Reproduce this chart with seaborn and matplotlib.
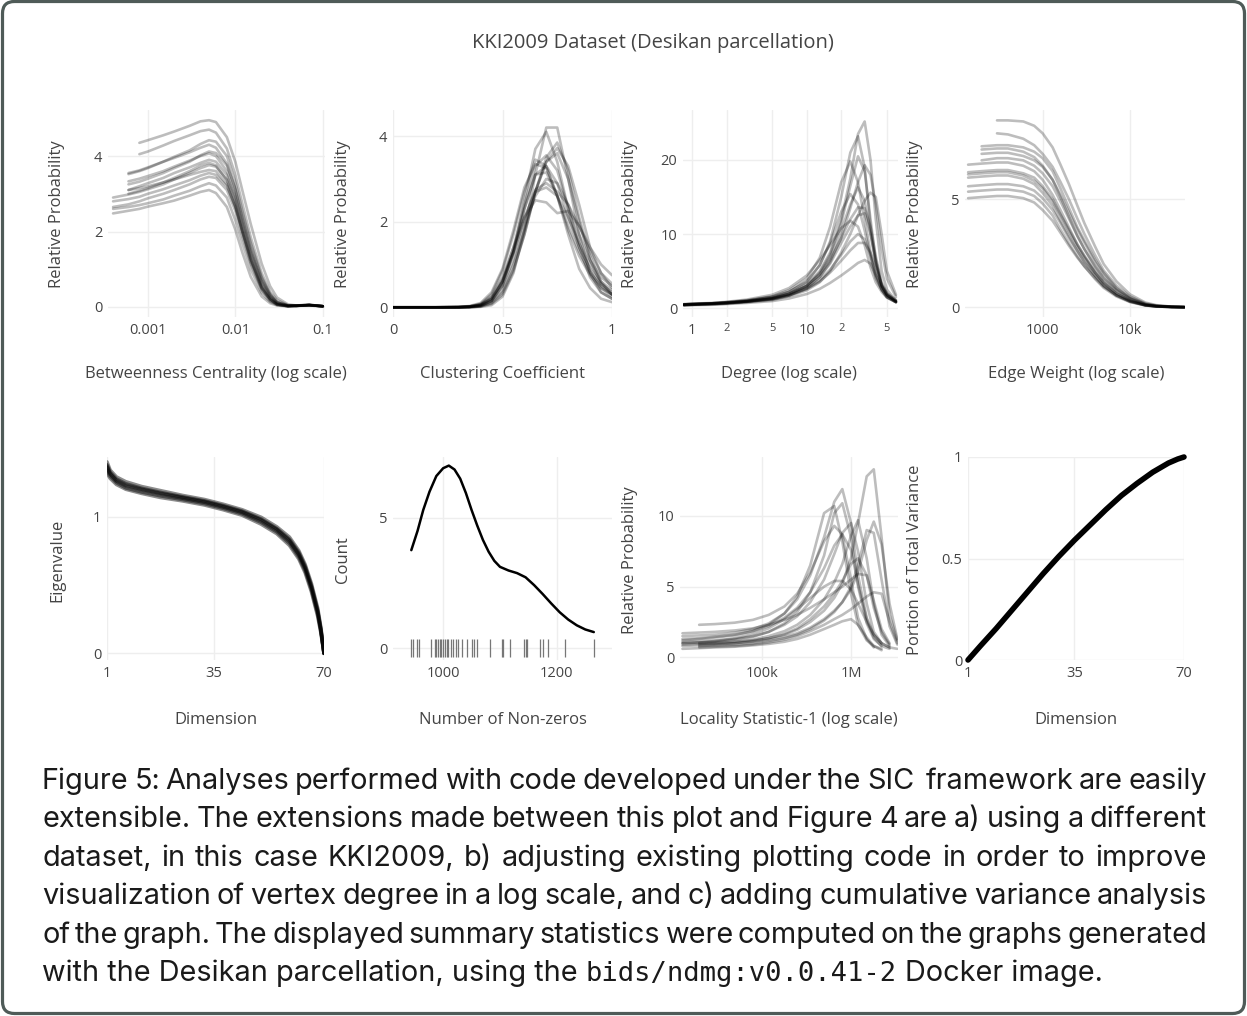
import numpy as np
import pandas as pd
import seaborn as sns
import matplotlib.pyplot as plt
from matplotlib.patches import FancyBboxPatch
from matplotlib.transforms import IdentityTransform
from matplotlib.ticker import NullLocator

N = None

# ---- Betweenness centrality (log x) ----
bc_x = [0.0004, 0.0006, 0.0008, 0.001, 0.0015, 0.002, 0.003, 0.004, 0.005, 0.006, 0.008,
        0.01, 0.012, 0.015, 0.02, 0.025, 0.03, 0.04, 0.05, 0.07, 0.1]
bc_curves = [
    [N, N, 4.35, 4.42, 4.55, 4.65, 4.8, 4.92, 4.95, 4.9, 4.5, 3.85, 3.1, 2.2, 1.15, 0.55, 0.25, 0.07, 0.04, 0.05, 0.02],
    [N, N, 4.05, 4.12, 4.28, 4.4, 4.55, 4.66, 4.7, 4.62, 4.2, 3.5, 2.75, 1.85, 0.9, 0.4, 0.18, 0.05, 0.03, 0.05, 0.02],
    [N, 3.52, 3.6, 3.68, 3.85, 3.98, 4.15, 4.32, 4.42, 4.38, 4.0, 3.3, 2.55, 1.7, 0.8, 0.35, 0.14, 0.04, 0.03, 0.06, 0.02],
    [N, 3.55, 3.62, 3.7, 3.85, 3.95, 4.1, 4.22, 4.3, 4.22, 3.8, 3.1, 2.35, 1.5, 0.7, 0.3, 0.12, 0.04, 0.04, 0.06, 0.02],
    [N, 3.33, 3.4, 3.47, 3.6, 3.72, 3.88, 4.0, 4.07, 4.0, 3.6, 2.95, 2.25, 1.45, 0.65, 0.27, 0.1, 0.03, 0.03, 0.05, 0.02],
    [N, 3.1, 3.2, 3.28, 3.42, 3.55, 3.7, 3.82, 3.9, 3.85, 3.5, 2.9, 2.2, 1.4, 0.6, 0.25, 0.1, 0.03, 0.04, 0.05, 0.02],
    [2.9, 2.98, 3.05, 3.12, 3.25, 3.38, 3.55, 3.68, 3.76, 3.72, 3.38, 2.8, 2.1, 1.3, 0.55, 0.22, 0.08, 0.03, 0.04, 0.05, 0.02],
    [N, 3.1, 3.15, 3.2, 3.3, 3.38, 3.5, 3.58, 3.63, 3.6, 3.25, 2.65, 2.0, 1.25, 0.5, 0.2, 0.07, 0.02, 0.03, 0.05, 0.02],
    [2.65, 2.72, 2.8, 2.88, 3.0, 3.1, 3.25, 3.38, 3.45, 3.42, 3.1, 2.55, 1.9, 1.15, 0.45, 0.17, 0.06, 0.02, 0.03, 0.05, 0.02],
    [2.6, 2.65, 2.7, 2.75, 2.85, 2.95, 3.08, 3.2, 3.28, 3.22, 2.9, 2.3, 1.7, 1.0, 0.38, 0.14, 0.05, 0.02, 0.03, 0.04, 0.02],
    [2.48, 2.55, 2.6, 2.66, 2.75, 2.82, 2.95, 3.05, 3.1, 3.02, 2.65, 2.05, 1.45, 0.8, 0.28, 0.1, 0.04, 0.02, 0.03, 0.04, 0.02],
    [N, 3.25, 3.32, 3.4, 3.55, 3.68, 3.85, 4.02, 4.12, 4.08, 3.75, 3.15, 2.45, 1.6, 0.75, 0.32, 0.12, 0.04, 0.03, 0.05, 0.02],
    [N, 3.0, 3.08, 3.15, 3.3, 3.42, 3.6, 3.75, 3.82, 3.75, 3.35, 2.7, 2.0, 1.2, 0.5, 0.2, 0.07, 0.02, 0.04, 0.06, 0.02],
    [2.8, 2.86, 2.92, 3.0, 3.12, 3.22, 3.36, 3.48, 3.55, 3.5, 3.2, 2.65, 2.0, 1.25, 0.52, 0.2, 0.07, 0.02, 0.03, 0.05, 0.02],
]

# ---- Clustering coefficient ----
cc_x = [0, 0.1, 0.2, 0.3, 0.35, 0.4, 0.45, 0.5, 0.55, 0.6, 0.65, 0.7, 0.75, 0.8, 0.85, 0.9, 0.95, 1.0]
cc_curves = [
    [0, 0, 0, 0, 0, 0.01, 0.05, 0.25, 0.8, 1.8, 3.1, 4.2, 4.2, 3.0, 1.7, 0.8, 0.35, 0.2],
    [0, 0, 0, 0, 0.01, 0.03, 0.15, 0.5, 1.3, 2.5, 3.7, 4.1, 3.4, 2.3, 1.4, 0.7, 0.35, 0.2],
    [0, 0, 0, 0, 0, 0.02, 0.1, 0.35, 0.9, 1.7, 2.7, 3.5, 3.85, 3.2, 2.1, 1.2, 0.6, 0.3],
    [0, 0, 0, 0, 0.01, 0.03, 0.12, 0.4, 1.0, 1.8, 2.7, 3.4, 3.72, 3.3, 2.4, 1.4, 0.8, 0.45],
    [0, 0, 0, 0.01, 0.02, 0.08, 0.3, 0.85, 1.7, 2.7, 3.45, 3.3, 2.6, 1.9, 1.3, 0.8, 0.5, 0.3],
    [0, 0, 0, 0, 0.01, 0.05, 0.2, 0.6, 1.4, 2.4, 3.3, 3.55, 3.2, 2.3, 1.5, 0.85, 0.45, 0.25],
    [0, 0, 0, 0.01, 0.02, 0.07, 0.25, 0.7, 1.4, 2.1, 2.5, 2.45, 2.2, 2.25, 1.9, 1.4, 1.0, 0.75],
    [0, 0, 0, 0, 0.01, 0.05, 0.18, 0.6, 1.3, 2.3, 3.1, 3.3, 2.9, 2.1, 1.4, 0.9, 0.55, 0.35],
    [0, 0, 0, 0, 0.01, 0.04, 0.15, 0.5, 1.1, 1.9, 2.6, 3.0, 2.9, 2.4, 1.7, 1.1, 0.7, 0.5],
    [0, 0, 0, 0.01, 0.03, 0.1, 0.35, 0.9, 1.8, 2.8, 3.35, 3.25, 2.6, 1.8, 1.2, 0.75, 0.45, 0.3],
    [0, 0, 0, 0, 0.02, 0.06, 0.22, 0.65, 1.3, 2.1, 2.7, 2.8, 2.6, 2.1, 1.5, 1.0, 0.6, 0.4],
    [0, 0, 0, 0, 0, 0.02, 0.08, 0.3, 0.85, 1.7, 2.7, 3.4, 3.6, 3.0, 2.0, 1.1, 0.55, 0.3],
    [0, 0, 0, 0, 0.01, 0.04, 0.15, 0.55, 1.3, 2.3, 3.1, 3.15, 2.6, 1.7, 0.9, 0.45, 0.2, 0.12],
    [0, 0, 0, 0.01, 0.02, 0.06, 0.2, 0.6, 1.25, 2.05, 2.75, 2.9, 2.7, 2.4, 1.9, 1.3, 0.8, 0.55],
]

# ---- Degree (log x) ----
deg_x = [0.85, 1, 1.5, 2, 3, 5, 7, 10, 13, 16, 20, 24, 28, 32, 36, 40, 45, 50, 60]
deg_curves = [
    [0.5, 0.55, 0.65, 0.75, 0.95, 1.4, 2.0, 3.2, 5.0, 7.5, 12, 17.5, 23.5, 25.2, 20, 12, 5, 2.5, 1.0],
    [0.5, 0.55, 0.65, 0.75, 1.0, 1.5, 2.2, 3.5, 5.8, 9, 15, 21, 23.2, 19, 11, 6, 3, 1.8, 0.9],
    [0.45, 0.5, 0.6, 0.7, 0.9, 1.3, 1.9, 3.0, 4.8, 7.2, 11.5, 16.5, 20.5, 18.5, 12, 6.5, 3, 1.8, 0.8],
    [0.5, 0.55, 0.65, 0.8, 1.05, 1.6, 2.4, 4.0, 6.8, 11, 17, 19.8, 17, 12, 7.5, 4.5, 2.5, 1.5, 0.8],
    [0.4, 0.45, 0.55, 0.65, 0.85, 1.2, 1.7, 2.7, 4.2, 6.2, 9.5, 13.5, 17, 19.3, 18, 14, 8, 4, 1.5],
    [0.4, 0.45, 0.5, 0.6, 0.8, 1.1, 1.6, 2.4, 3.5, 5.0, 7.5, 10, 12.5, 14.5, 15.6, 15, 10, 5, 1.8],
    [0.45, 0.5, 0.6, 0.7, 0.9, 1.3, 1.9, 3.0, 4.6, 6.8, 10.5, 14, 16.3, 14.5, 10, 6, 3, 1.8, 0.9],
    [0.5, 0.55, 0.65, 0.8, 1.0, 1.5, 2.2, 3.6, 5.8, 8.8, 13, 15.4, 14, 10.5, 7, 4, 2.5, 1.5, 0.8],
    [0.45, 0.5, 0.6, 0.7, 0.9, 1.3, 1.8, 2.8, 4.2, 6.0, 8.8, 11, 12.5, 12.8, 10, 6.5, 3.2, 1.8, 0.9],
    [0.4, 0.45, 0.55, 0.65, 0.85, 1.2, 1.7, 2.6, 3.8, 5.2, 7.2, 9, 10, 9.3, 7, 4.5, 2.5, 1.5, 0.8],
    [0.35, 0.4, 0.45, 0.55, 0.7, 0.95, 1.3, 1.9, 2.6, 3.4, 4.4, 5.3, 6.1, 6.5, 6.0, 4.5, 2.8, 1.7, 0.9],
    [0.55, 0.6, 0.7, 0.85, 1.15, 1.8, 2.7, 4.4, 6.5, 8.5, 10.8, 11.8, 11, 8.5, 5.5, 3.5, 2.2, 1.4, 0.8],
    [0.45, 0.5, 0.6, 0.7, 0.9, 1.35, 1.9, 3.0, 4.5, 6.5, 9.5, 12, 13.6, 13.5, 11, 7, 3.5, 2.0, 1.0],
    [0.5, 0.55, 0.6, 0.7, 0.9, 1.25, 1.7, 2.6, 3.6, 4.8, 6.4, 7.8, 8.8, 8.8, 7.5, 5.5, 3.2, 2.0, 1.1],
]

# ---- Edge weight (log x) ----
ew_x = [140, 200, 300, 400, 600, 800, 1000, 1300, 1600, 2000, 2500, 3000, 4000, 5000, 7000,
        10000, 15000, 20000, 30000, 42000]
ew_curves = [
    [N, N, 8.65, 8.65, 8.6, 8.4, 8.05, 7.4, 6.6, 5.7, 4.7, 3.9, 2.8, 2.0, 1.2, 0.6, 0.22, 0.1, 0.03, 0.01],
    [N, N, 8.05, 8.0, 7.8, 7.5, 7.1, 6.5, 5.8, 5.0, 4.1, 3.4, 2.4, 1.7, 1.0, 0.5, 0.18, 0.08, 0.03, 0.01],
    [N, 7.45, 7.5, 7.5, 7.4, 7.2, 6.9, 6.3, 5.5, 4.6, 3.7, 3.1, 2.2, 1.6, 0.9, 0.45, 0.15, 0.07, 0.02, 0.01],
    [N, 7.1, 7.15, 7.15, 7.0, 6.8, 6.5, 5.9, 5.2, 4.4, 3.6, 3.0, 2.1, 1.5, 0.85, 0.42, 0.14, 0.06, 0.02, 0.01],
    [N, 6.8, 6.9, 6.9, 6.8, 6.55, 6.2, 5.6, 4.9, 4.1, 3.3, 2.7, 1.9, 1.35, 0.8, 0.4, 0.13, 0.06, 0.02, 0.01],
    [6.6, 6.65, 6.7, 6.7, 6.55, 6.3, 5.9, 5.2, 4.5, 3.7, 2.9, 2.4, 1.65, 1.15, 0.65, 0.3, 0.1, 0.05, 0.02, 0.01],
    [6.25, 6.3, 6.35, 6.35, 6.2, 6.0, 5.6, 5.0, 4.3, 3.6, 2.9, 2.35, 1.6, 1.15, 0.65, 0.32, 0.1, 0.05, 0.02, 0.01],
    [6.0, 6.05, 6.1, 6.1, 5.95, 5.7, 5.3, 4.7, 4.0, 3.3, 2.6, 2.1, 1.45, 1.0, 0.55, 0.27, 0.09, 0.04, 0.01, 0.0],
    [5.6, 5.65, 5.7, 5.7, 5.6, 5.4, 5.05, 4.5, 3.9, 3.2, 2.6, 2.1, 1.45, 1.0, 0.55, 0.26, 0.09, 0.04, 0.01, 0.0],
    [5.35, 5.4, 5.45, 5.45, 5.35, 5.15, 4.8, 4.25, 3.6, 2.95, 2.35, 1.9, 1.3, 0.9, 0.5, 0.24, 0.08, 0.03, 0.01, 0.0],
    [5.05, 5.1, 5.15, 5.15, 5.05, 4.85, 4.5, 4.0, 3.45, 2.85, 2.3, 1.9, 1.35, 0.95, 0.55, 0.27, 0.09, 0.04, 0.01, 0.0],
    [N, 7.3, 7.35, 7.35, 7.2, 6.95, 6.55, 5.9, 5.1, 4.2, 3.3, 2.7, 1.85, 1.3, 0.75, 0.37, 0.12, 0.05, 0.02, 0.01],
    [6.15, 6.2, 6.25, 6.25, 6.1, 5.85, 5.5, 4.9, 4.25, 3.5, 2.8, 2.3, 1.6, 1.1, 0.62, 0.3, 0.1, 0.04, 0.01, 0.0],
]

# ---- Eigenvalues ----
eig_x = [1, 2, 4, 7, 12, 18, 25, 32, 38, 44, 50, 55, 59, 62, 64, 66, 68, 69, 70]
eig_curves = [
    [1.36, 1.31, 1.26, 1.225, 1.195, 1.165, 1.135, 1.105, 1.07, 1.03, 0.97, 0.9, 0.82, 0.72, 0.62, 0.48, 0.3, 0.17, 0.0],
    [1.40, 1.34, 1.29, 1.255, 1.22, 1.19, 1.155, 1.125, 1.09, 1.05, 0.995, 0.925, 0.85, 0.75, 0.65, 0.51, 0.33, 0.19, 0.0],
    [1.32, 1.28, 1.235, 1.2, 1.17, 1.14, 1.115, 1.085, 1.05, 1.01, 0.945, 0.875, 0.79, 0.69, 0.59, 0.45, 0.27, 0.15, 0.0],
    [1.38, 1.325, 1.275, 1.24, 1.207, 1.177, 1.145, 1.115, 1.08, 1.04, 0.982, 0.912, 0.835, 0.737, 0.637, 0.495, 0.315, 0.18, 0.0],
    [1.34, 1.295, 1.248, 1.21, 1.18, 1.152, 1.125, 1.095, 1.06, 1.02, 0.958, 0.888, 0.805, 0.705, 0.605, 0.465, 0.285, 0.16, 0.0],
    [1.37, 1.315, 1.265, 1.23, 1.2, 1.17, 1.14, 1.11, 1.075, 1.035, 0.976, 0.907, 0.826, 0.727, 0.627, 0.487, 0.305, 0.172, 0.0],
]

# ---- Number of non-zeros ----
nnz_x = [944, 955, 965, 976, 988, 1000, 1010, 1020, 1030, 1040, 1050, 1060, 1070, 1080, 1090,
         1100, 1115, 1130, 1145, 1160, 1175, 1190, 1205, 1220, 1235, 1250, 1265]
nnz_y = [3.76, 4.5, 5.3, 6.0, 6.6, 6.9, 7.0, 6.85, 6.5, 5.95, 5.3, 4.7, 4.15, 3.7, 3.35,
         3.12, 2.98, 2.88, 2.72, 2.42, 2.08, 1.72, 1.38, 1.1, 0.88, 0.72, 0.62]
nnz_rug = [944, 947, 954, 958, 978, 985, 988, 991, 994, 997, 1000, 1003, 1006, 1009, 1013, 1018,
           1022, 1026, 1034, 1042, 1050, 1054, 1059, 1082, 1103, 1106, 1118, 1143, 1145, 1148,
           1171, 1175, 1185, 1215, 1265]

# ---- Locality statistic-1 (log x) ----
ls_x = [13000, 20000, 30000, 50000, 80000, 120000, 180000, 250000, 350000, 500000, 650000,
        800000, 1000000, 1200000, 1500000, 1800000, 2200000, 2700000, 3300000]
ls_curves = [
    [N, 1.0, 1.05, 1.1, 1.2, 1.35, 1.6, 1.95, 2.5, 3.3, 4.2, 5.2, 7.0, 9.5, 12.8, 13.3, 8.5, 3.0, 1.2],
    [1.5, 1.55, 1.6, 1.75, 2.0, 2.4, 3.1, 4.1, 5.8, 8.5, 11.0, 11.9, 9.5, 5.8, 2.8, 1.6, 1.0, 0.7, 0.6],
    [1.2, 1.3, 1.4, 1.55, 1.85, 2.3, 3.1, 4.3, 6.5, 10.2, 10.7, 8.2, 4.5, 2.3, 1.2, 0.8, 0.6, N, N],
    [1.0, 1.05, 1.1, 1.25, 1.45, 1.8, 2.4, 3.2, 4.6, 7.2, 10.2, 10.9, 8.5, 5.0, 2.4, 1.3, 0.8, 0.6, N],
    [N, 0.9, 0.95, 1.0, 1.1, 1.25, 1.45, 1.7, 2.1, 2.7, 3.3, 3.9, 4.8, 6.0, 8.3, 9.6, 8.0, 3.8, 1.3],
    [1.1, 1.15, 1.2, 1.3, 1.5, 1.8, 2.3, 2.9, 3.9, 5.5, 7.3, 8.8, 9.5, 7.5, 3.8, 1.8, 1.0, 0.7, N],
    [0.9, 0.95, 1.0, 1.1, 1.25, 1.5, 1.85, 2.3, 3.0, 4.1, 5.3, 6.6, 8.6, 9.7, 7.0, 3.8, 1.6, 0.8, N],
    [N, 0.8, 0.85, 0.9, 1.0, 1.15, 1.35, 1.6, 2.0, 2.6, 3.2, 3.9, 5.0, 6.5, 9.0, 8.8, 5.5, 2.2, 0.9],
    [1.3, 1.35, 1.45, 1.6, 1.85, 2.2, 2.8, 3.5, 4.6, 6.3, 7.9, 8.7, 7.6, 5.2, 2.7, 1.4, 0.8, N, N],
    [1.0, 1.05, 1.15, 1.35, 1.65, 2.05, 2.7, 3.4, 4.2, 5.0, 5.4, 5.4, 4.8, 3.8, 2.5, 1.6, 1.0, N, N],
    [N, 0.7, 0.75, 0.8, 0.9, 1.05, 1.25, 1.5, 1.85, 2.3, 2.7, 3.0, 3.4, 3.8, 4.3, 4.6, 4.5, 2.5, 1.0],
    [0.6, 0.65, 0.7, 0.75, 0.85, 0.95, 1.1, 1.3, 1.6, 2.0, 2.3, 2.55, 2.7, 2.3, 1.4, 0.8, 0.5, N, N],
    [N, 2.3, 2.35, 2.45, 2.65, 3.0, 3.6, 4.5, 6.0, 8.2, 9.3, 8.7, 5.5, 2.8, 1.3, 0.7, N, N, N],
    [0.8, 0.85, 0.9, 1.0, 1.15, 1.35, 1.65, 2.05, 2.7, 3.6, 4.5, 5.4, 6.6, 7.0, 5.8, 3.5, 1.8, 0.9, N],
    [1.7, 1.75, 1.8, 1.9, 2.05, 2.3, 2.65, 3.0, 3.5, 4.1, 4.6, 5.0, 5.5, 5.9, 5.8, 4.0, 2.0, 1.0, N],
]

# ---- Cumulative variance ----
cv_x = [1, 5, 10, 15, 20, 25, 30, 35, 40, 45, 50, 55, 60, 65, 68, 70]
cv_y = [0.0, 0.07, 0.155, 0.245, 0.335, 0.425, 0.51, 0.59, 0.665, 0.74, 0.81, 0.87, 0.925, 0.97, 0.99, 1.0]

title = "KKI2009 Dataset (Desikan parcellation)"
caption_lines = [
    "Figure 5: Analyses performed with code developed under the SIC  framework are easily",
    "extensible. The extensions made between this plot and Figure 4 are a) using a different",
    "dataset, in this case KKI2009, b) adjusting existing plotting code in order to improve",
    "visualization of vertex degree in a log scale, and c) adding cumulative variance analysis",
    "of the graph. The displayed summary statistics were computed on the graphs generated",
]
caption_last = ["with the Desikan parcellation, using the ", "bids/ndmg:v0.0.41-2", " Docker image."]

# ---------------------------------------------------------------
sns.set_style('white')
plt.rcParams['font.family'] = ['Open Sans', 'DejaVu Sans']
TXT = '#444444'
GRID = '#eeeeee'

W, H = 1247, 1016
fig = plt.figure(figsize=(W / 100, H / 100), dpi=100)


def px_axes(x0, y0, x1, y1):
    return fig.add_axes([x0 / W, 1 - y1 / H, (x1 - x0) / W, (y1 - y0) / H])


def long_frame(xs, curves):
    rows = []
    for i, ys in enumerate(curves):
        for x, y in zip(xs, ys):
            if y is not None:
                rows.append((i, x, y))
    return pd.DataFrame(rows, columns=['subject', 'x', 'y'])


def draw_curves(ax, xs, curves, alpha=0.26, lw=1.9):
    df = long_frame(xs, curves)
    sns.lineplot(data=df, x='x', y='y', units='subject', estimator=None, sort=False,
                 color='black', alpha=alpha, lw=lw, ax=ax, legend=False)


def style(ax, xlim, ylim, xt, xl, yt, yl, logx=False):
    if logx:
        ax.set_xscale('log')
    ax.set_xlim(xlim)
    ax.set_ylim(ylim)
    ax.set_xticks(xt)
    ax.set_xticklabels(xl)
    ax.set_yticks(yt)
    ax.set_yticklabels(yl)
    ax.xaxis.set_minor_locator(NullLocator())
    ax.yaxis.set_minor_locator(NullLocator())
    ax.grid(True, color=GRID, lw=1)
    ax.set_axisbelow(True)
    for s in ax.spines.values():
        s.set_visible(False)
    ax.tick_params(length=0, labelsize=10.5, colors=TXT, pad=4)
    ax.set_xlabel('')
    ax.set_ylabel('')
    ax.patch.set_alpha(0)


def ytitle(x, y, s):
    fig.text(x / W, 1 - y / H, s, rotation=90, ha='center', va='center', fontsize=12, color=TXT)


def xtitle(x, y, s):
    fig.text(x / W, 1 - y / H, s, ha='center', va='center', fontsize=12, color=TXT)


# row 1
ax1 = px_axes(108, 110, 325, 317)
draw_curves(ax1, bc_x, bc_curves)
style(ax1, (3.5e-4, 0.106), (-0.265, 5.22), [0.001, 0.01, 0.1], ['0.001', '0.01', '0.1'],
      [0, 2, 4], ['0', '2', '4'], logx=True)

ax2 = px_axes(393, 110, 612, 317)
draw_curves(ax2, cc_x, cc_curves)
style(ax2, (0, 1), (-0.227, 4.61), [0, 0.5, 1], ['0', '0.5', '1'], [0, 2, 4], ['0', '2', '4'])

ax3 = px_axes(683, 110, 898, 317)
draw_curves(ax3, deg_x, deg_curves)
style(ax3, (0.835, 62.5), (-1.2, 26.75), [1, 2, 5, 10, 20, 50], ['1', '2', '5', '10', '2', '5'],
      [0, 10, 20], ['0', '10', '20'], logx=True)
for lab in ax3.get_xticklabels():
    if lab.get_text() in ('2', '5'):
        lab.set_fontsize(8)

ax4 = px_axes(965, 110, 1185, 317)
draw_curves(ax4, ew_x, ew_curves)
style(ax4, (129, 42700), (-0.45, 9.13), [1000, 10000], ['1000', '10k'], [0, 5], ['0', '5'], logx=True)

# row 2
ax5 = px_axes(107, 457, 324, 660)
draw_curves(ax5, eig_x, eig_curves, alpha=0.45, lw=2.6)
style(ax5, (1, 70), (-0.049, 1.436), [1, 35, 70], ['1', '35', '70'], [0, 1], ['0', '1'])

ax6 = px_axes(393, 457, 612, 660)
sns.lineplot(x=nnz_x, y=nnz_y, color='black', lw=1.8, ax=ax6, sort=False)
sns.scatterplot(x=nnz_rug, y=np.zeros(len(nnz_rug)), marker='|', s=150, color='#777777',
                linewidth=0.9, ax=ax6, legend=False)
style(ax6, (911.8, 1297), (-0.45, 7.33), [1000, 1200], ['1000', '1200'], [0, 5], ['0', '5'])

ax7 = px_axes(680, 457, 898, 660)
draw_curves(ax7, ls_x, ls_curves)
style(ax7, (12200, 3.36e6), (-0.19, 14.17), [1e5, 1e6], ['100k', '1M'], [0, 5, 10], ['0', '5', '10'],
      logx=True)

ax8 = px_axes(968, 457, 1184, 660)
sns.lineplot(x=cv_x, y=cv_y, color='black', lw=4, ax=ax8, sort=False)
style(ax8, (1, 70), (0, 1), [1, 35, 70], ['1', '35', '70'], [0, 0.5, 1], ['0', '0.5', '1'])
for ln in ax8.lines:
    ln.set_clip_on(False)

# axis titles
for x, s in [(57, 'Relative Probability'), (343, 'Relative Probability'),
             (630, 'Relative Probability'), (915, 'Relative Probability')]:
    ytitle(x, 214, s)
for x, s in [(57, 'Eigenvalue'), (343, 'Count'), (630, 'Relative Probability'),
             (915, 'Portion of Total Variance')]:
    ytitle(x, 560, s)
for x, s in [(216, 'Betweenness Centrality (log scale)'), (502, 'Clustering Coefficient'),
             (789, 'Degree (log scale)'), (1076, 'Edge Weight (log scale)')]:
    xtitle(x, 374, s)
for x, s in [(216, 'Dimension'), (503, 'Number of Non-zeros'),
             (789, 'Locality Statistic-1 (log scale)'), (1076, 'Dimension')]:
    xtitle(x, 720, s)

fig.text(653 / W, 1 - 43 / H, title, ha='center', va='center', fontsize=14.5, color=TXT)

# caption, justified
renderer = fig.canvas.get_renderer()
CAP = dict(fontsize=20.8, color='#1a1a1a', family=['Inter', 'DejaVu Sans'], va='baseline')
X0, X1 = 42, 1207
baselines = [789, 827, 866, 904, 943, 981]


def width(t):
    return t.get_window_extent(renderer).width


for line, yb in zip(caption_lines, baselines):
    words = line.split(' ')
    texts = [fig.text(0, 1 - yb / H, w, **CAP) for w in words]
    ws = [width(t) if w else 0 for t, w in zip(texts, words)]
    gap = max((X1 - X0 - sum(ws)) / (len(words) - 1), 3)
    x = X0
    for t, w in zip(texts, ws):
        t.set_x(x / W)
        x += w + gap

x = X0
probe1 = fig.text(0, 0, 'a a', **CAP)
probe2 = fig.text(0, 0, 'aa', **CAP)
sp = width(probe1) - width(probe2)
probe1.remove()
probe2.remove()
for i, piece in enumerate(caption_last):
    kw = dict(CAP)
    if i == 1:
        kw['family'] = ['DejaVu Sans Mono']
        kw['fontsize'] = 19.5
    t = fig.text(x / W, 1 - baselines[-1] / H, piece.strip(), **kw)
    x += width(t) + sp

# frame
frame = FancyBboxPatch((2.5, 2.5), W - 5, H - 4, boxstyle='round,pad=0,rounding_size=12',
                       transform=IdentityTransform(), fill=False, edgecolor='#4f5b58', lw=2.3)
fig.patches.append(frame)

fig.savefig('out.png', dpi=100, facecolor='white')
